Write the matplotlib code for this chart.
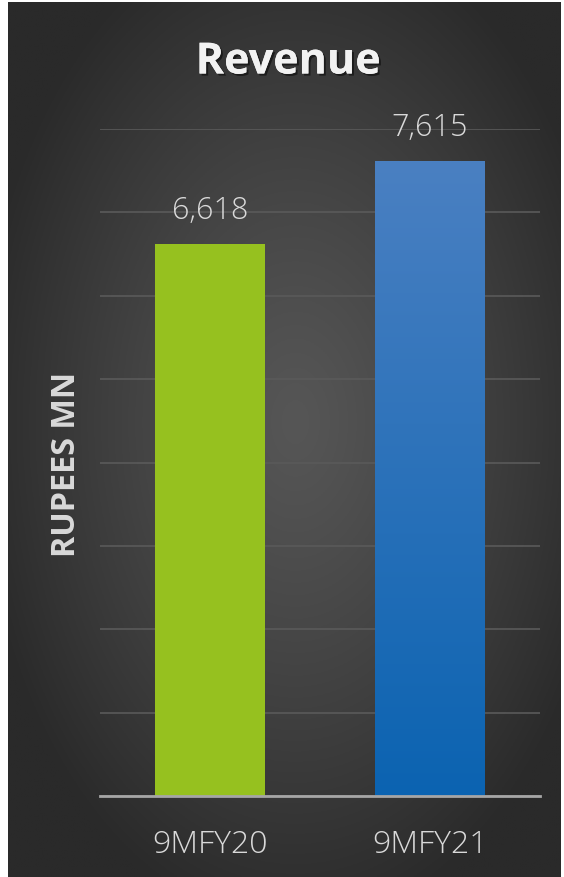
import numpy as np
import matplotlib
matplotlib.use("Agg")
import matplotlib.pyplot as plt
import matplotlib.patheffects as pe
from matplotlib.colors import LinearSegmentedColormap

categories = ["9MFY20", "9MFY21"]
values = [6618, 7615]
value_labels = ["6,618", "7,615"]
title = "Revenue"
ylabel = "RUPEES MN"

plt.rcParams['font.family'] = ['Open Sans', 'DejaVu Sans']

W, H = 564, 877
fig = plt.figure(figsize=(W / 100, H / 100), dpi=100)
fig.patch.set_facecolor('white')

# background radial gradient
bg = fig.add_axes([8 / W, 0, (W - 11) / W, (H - 2) / H])
bg.set_axis_off()
yy, xx = np.mgrid[0:1:400j, 0:1:300j]
r = np.sqrt(((xx - 0.52) / 0.75) ** 2 + ((yy - 0.52) / 0.75) ** 2)
r = np.clip(r / 0.78, 0, 1) ** 1.2
c0 = np.array([0x56, 0x56, 0x56]) / 255
c1 = np.array([0x2a, 0x2a, 0x2a]) / 255
img = c0[None, None, :] * (1 - r[..., None]) + c1[None, None, :] * r[..., None]
bg.imshow(img, aspect='auto', extent=[0, 1, 0, 1], origin='lower')
bg.set_xlim(0, 1)
bg.set_ylim(0, 1)

ax = fig.add_axes([100 / W, 81 / H, 440 / W, 667 / H])
ax.patch.set_alpha(0)
x = np.arange(len(categories))
bars = ax.bar(x, values, width=0.5, color=['#96c11f', '#1a6fbd'], zorder=3)

# blue gradient overlay on second bar
blue_cmap = LinearSegmentedColormap.from_list('b', ['#0b63b1', '#4a80c2'])
b = bars[1]
grad = np.linspace(0, 1, 256).reshape(-1, 1)
im = ax.imshow(grad, cmap=blue_cmap, aspect='auto', origin='lower',
               extent=[b.get_x(), b.get_x() + b.get_width(), 0, b.get_height()], zorder=4)
im.set_clip_path(b)

ax.set_xlim(-0.5, 1.5)
ax.set_ylim(0, 8000)
ax.set_yticks(np.arange(0, 8001, 1000))
ax.yaxis.grid(True, color='#5a5a5a', linewidth=1.2)
ax.set_axisbelow(True)
ax.tick_params(axis='y', left=False, labelleft=False)
ax.tick_params(axis='x', bottom=False, labelsize=23, labelcolor='#d9d9d9', pad=20)
ax.set_xticks(x)
ax.set_xticklabels(categories, fontweight='light')
for s in ['top', 'right', 'left']:
    ax.spines[s].set_visible(False)
ax.spines['bottom'].set_color('#a6a6a6')
ax.spines['bottom'].set_linewidth(2)
ax.spines['bottom'].set_zorder(5)

for xi, v, lab in zip(x, values, value_labels):
    ax.annotate(lab, (xi, v), xytext=(0, 24), textcoords='offset points',
                ha='center', va='center', fontsize=22, color='#d9d9d9',
                fontweight='light')

ax.set_ylabel(ylabel, fontsize=23.3, fontweight='bold', color='#d9d9d9')
ax.yaxis.set_label_coords(-17 / 440, (796 - 464) / 667)

fig.text(288 / W, 1 - 62 / H, title, ha='center', va='center', fontsize=31,
         fontweight='bold', color='#f2f2f2',
         path_effects=[pe.withSimplePatchShadow(offset=(1.5, -1.5), shadow_rgbFace='black', alpha=0.5),
                       pe.Normal()])

fig.savefig('out.png', dpi=100, facecolor=fig.get_facecolor())
